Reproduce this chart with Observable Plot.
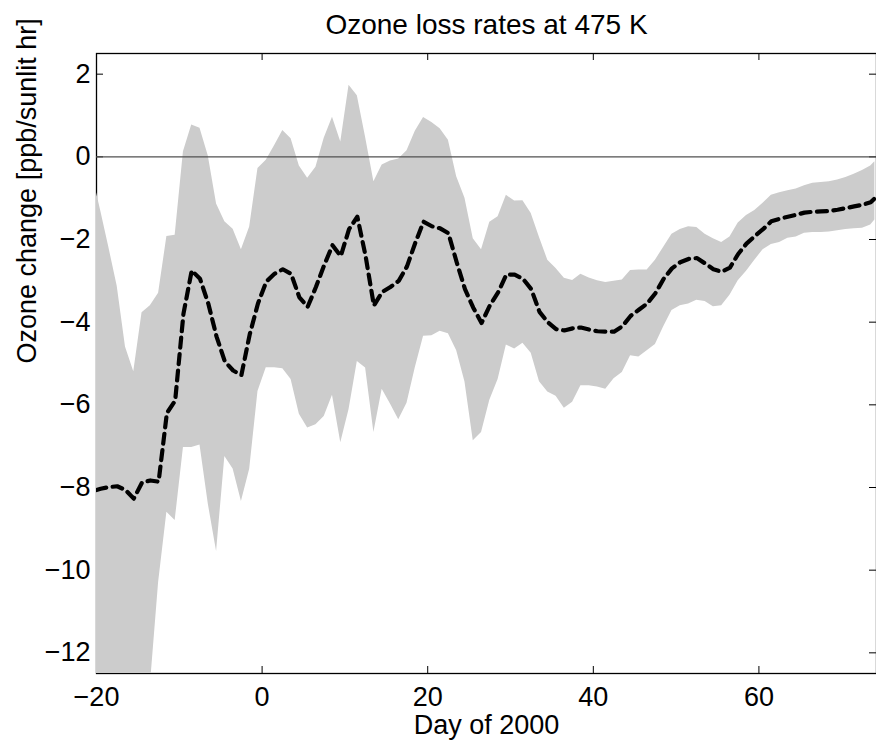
<!DOCTYPE html>
<html>
<head>
<meta charset="utf-8">
<script src="https://cdn.jsdelivr.net/npm/d3@7"></script>
<script src="https://cdn.jsdelivr.net/npm/@observablehq/plot@0.6"></script>
<style>
  html, body { margin: 0; padding: 0; background: #fff; }
  #chart { width: 876px; height: 742px; }
</style>
</head>
<body>
<div id="chart"></div>
<script>
const title = "Ozone loss rates at 475 K";
const xLabel = "Day of 2000";
const yLabel = "Ozone change [ppb/sunlit hr]";
const xTicks = [-20, 0, 20, 40, 60];
const yTicks = [-12, -10, -8, -6, -4, -2, 0, 2];

const days = [
  -20, -19.5, -18.5, -17.5, -16.5, -15.5, -14.5, -13.5, -12.5, -11.5, -10.5,
  -9.5, -8.5, -7.5, -6.5, -5.5, -4.5, -3.5, -2.5, -1.5, -0.5,
  0.5, 1.5, 2.5, 3.5, 4.5, 5.5, 6.5, 7.5, 8.5, 9.5,
  10.5, 11.5, 12.5, 13.5, 14.5, 15.5, 16.5, 17.5, 18.5, 19.5,
  20.5, 21.5, 22.5, 23.5, 24.5, 25.5, 26.5, 27.5, 28.5, 29.5,
  30.5, 31.5, 32.5, 33.5, 34.5, 35.5, 36.5, 37.5, 38.5, 39.5,
  40.5, 41.5, 42.5, 43.5, 44.5, 45.5, 46.5, 47.5, 48.5, 49.5,
  50.5, 51.5, 52.5, 53.5, 54.5, 55.5, 56.5, 57.5, 58.5, 59.5,
  60.5, 61.5, 62.5, 63.5, 64.5, 65.5, 66.5, 67.5, 68.5, 69.5,
  70.5, 71.5, 72.5, 73.5, 74
];

const upper = [
  -0.87, -1.3, -2.2, -3.13, -4.6, -5.2, -3.77, -3.6, -3.3, -1.93, -1.9,
  0.12, 0.77, 0.69, 0.02, -1.14, -1.57, -1.75, -2.25, -1.7, -0.28,
  -0.08, 0.27, 0.64, 0.44, -0.22, -0.52, -0.25, 0.45, 0.96, 0.36,
  1.73, 1.48, 0.47, -0.6, -0.2, -0.1, -0.05, 0.15, 0.62, 0.95,
  0.83, 0.68, 0.4, -0.48, -1.0, -1.98, -2.25, -1.58, -1.45, -0.93,
  -1.07, -1.06, -1.37, -1.95, -2.5, -2.7, -2.94, -2.99, -2.84, -2.93,
  -3.0, -3.04, -3.01, -2.98, -2.75, -2.74, -2.74, -2.5, -2.19, -1.87,
  -1.76, -1.69, -1.71, -1.87, -1.98, -2.07, -1.94, -1.6, -1.42, -1.3,
  -1.12, -0.93, -0.87, -0.82, -0.78, -0.7, -0.64, -0.62, -0.6, -0.56,
  -0.5, -0.42, -0.33, -0.22, -0.12
];

const lower = [
  -15, -15, -15, -15, -15, -15, -15, -12.8, -10.3, -8.6, -8.8,
  -7.03, -7.03, -6.97, -8.4, -9.55, -7.25, -7.55, -8.34, -7.56, -5.68,
  -5.1, -5.1, -5.13, -5.39, -6.23, -6.56, -6.48, -6.28, -5.77, -6.92,
  -6.11, -4.95, -5.11, -6.67, -5.62, -5.98, -6.36, -5.96, -5.1, -4.34,
  -4.33, -4.22, -4.28, -4.69, -5.45, -6.87, -6.67, -5.89, -5.39, -4.55,
  -4.65, -4.51, -4.75, -5.44, -5.69, -5.79, -6.08, -5.94, -5.54, -5.54,
  -5.57, -5.62, -5.37, -5.22, -4.81, -4.84, -4.69, -4.54, -4.11, -3.72,
  -3.6, -3.56, -3.47, -3.5, -3.63, -3.6, -3.35, -3.0, -2.77, -2.5,
  -2.25, -2.12, -2.07, -1.97, -1.94, -1.85, -1.83, -1.83, -1.82, -1.79,
  -1.76, -1.74, -1.73, -1.65, -1.53
];

const mean = [
  -8.06, -8.03, -7.99, -7.97, -8.06, -8.27, -7.88, -7.83, -7.86, -6.2, -5.9,
  -3.8, -2.75, -2.95, -3.55, -4.35, -4.95, -5.17, -5.28, -4.3, -3.55,
  -3.02, -2.83, -2.72, -2.83, -3.4, -3.63, -3.15, -2.62, -2.14, -2.4,
  -1.75, -1.45, -2.4, -3.6, -3.27, -3.15, -3.0, -2.65, -2.08, -1.57,
  -1.68, -1.73, -1.85, -2.55, -3.2, -3.65, -4.02, -3.6, -3.28, -2.85,
  -2.85, -2.95, -3.2, -3.75, -4.0, -4.17, -4.2, -4.15, -4.13, -4.18,
  -4.22, -4.23, -4.23, -4.1, -3.85, -3.7, -3.55, -3.3, -2.95, -2.7,
  -2.55, -2.47, -2.45, -2.58, -2.72, -2.78, -2.68, -2.35, -2.1, -1.92,
  -1.75, -1.56, -1.5, -1.45, -1.4, -1.35, -1.33, -1.32, -1.31, -1.28,
  -1.24, -1.2, -1.16, -1.1, -1.0
];

const data = days.map((d, i) => ({day: d, hi: upper[i], lo: lower[i], mean: mean[i]}));

const W = 876, H = 742;
const mL = 96, mR = 0, mT = 53, mB = 69;
const fw = W - mL - mR, fh = H - mT - mB;
const tickLen = 7;

const chart = Plot.plot({
  width: W,
  height: H,
  marginLeft: mL,
  marginRight: mR,
  marginTop: mT,
  marginBottom: mB,
  style: {
    fontFamily: "'Liberation Sans', Arial, Helvetica, sans-serif",
    fontSize: "27px",
    color: "black",
    background: "white",
    overflow: "visible"
  },
  x: {domain: [-20, 74.2]},
  y: {domain: [-12.5, 2.5]},
  marks: [
    Plot.frame({stroke: "black", strokeWidth: 1.3}),
    Plot.tickX(xTicks, {x: d => d, insetTop: fh - tickLen, stroke: "black"}),
    Plot.tickX(xTicks, {x: d => d, insetBottom: fh - tickLen, stroke: "black"}),
    Plot.tickY(yTicks, {y: d => d, insetRight: fw - tickLen, stroke: "black"}),
    Plot.tickY(yTicks, {y: d => d, insetLeft: fw - tickLen, stroke: "black"}),
    Plot.areaY(data, {x: "day", y1: "lo", y2: "hi", fill: "#cccccc", fillOpacity: 1, clip: true}),
    Plot.ruleY([0], {stroke: "#505050", strokeWidth: 1.2}),
    Plot.line(data, {x: "day", y: "mean", stroke: "black", strokeWidth: 4.2, strokeDasharray: "10,6.5", clip: true}),
    Plot.axisX({ticks: xTicks, tickSize: 0, tickPadding: 13, label: null, fontSize: 27}),
    Plot.axisY({ticks: yTicks, tickSize: 0, tickPadding: 6, label: null, fontSize: 27}),
    Plot.text([title], {text: d => d, frameAnchor: "top", dy: -20, lineAnchor: "bottom", fontSize: 28}),
    Plot.text([xLabel], {text: d => d, frameAnchor: "bottom", dy: 60, lineAnchor: "bottom", fontSize: 27}),
    Plot.text([yLabel], {text: d => d, frameAnchor: "left", dx: -61, rotate: -90, lineAnchor: "bottom", fontSize: 27})
  ]
});
document.getElementById("chart").appendChild(chart);
</script>
</body>
</html>
